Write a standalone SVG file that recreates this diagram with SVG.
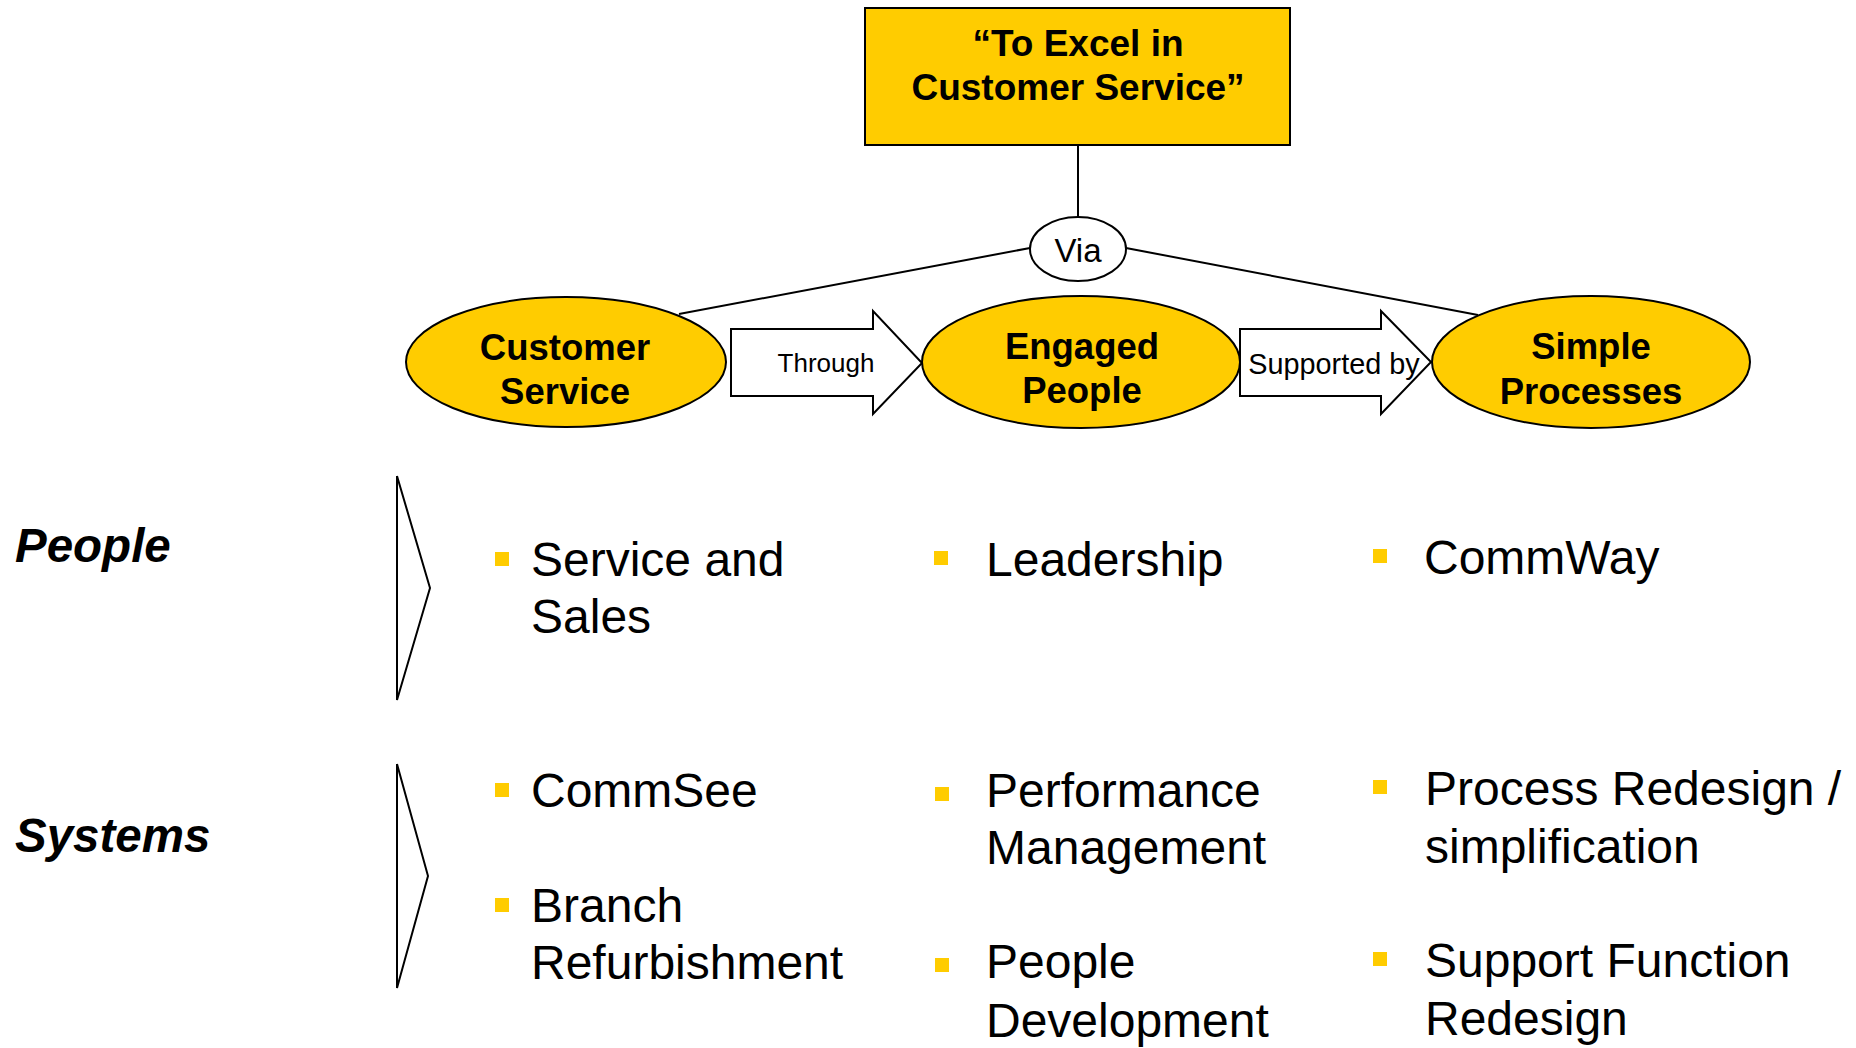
<svg xmlns="http://www.w3.org/2000/svg" width="1856" height="1048" viewBox="0 0 1856 1048">
  <style>
    .shape { stroke: #000; stroke-width: 2; }
    .gold { fill: #FFCC00; }
    .white { fill: #FFFFFF; }
    .line { stroke: #000; stroke-width: 2; fill: none; }
    .title { font-family: "Liberation Sans", Arial, sans-serif; font-weight: bold; font-size: 37px; text-anchor: middle; fill: #000; }
    .pillar { font-family: "Liberation Sans", Arial, sans-serif; font-weight: bold; font-size: 36.5px; text-anchor: middle; fill: #000; }
    .small { font-family: "Liberation Sans", Arial, sans-serif; text-anchor: middle; fill: #000; }
    .via { font-family: "Liberation Sans", Arial, sans-serif; font-size: 33px; text-anchor: middle; fill: #000; }
    .row { font-family: "Liberation Sans", Arial, sans-serif; font-weight: bold; font-style: italic; font-size: 47.5px; fill: #000; }
    .item { font-family: "Liberation Sans", Arial, sans-serif; font-size: 48px; fill: #000; }
    .bullet { fill: #FFCC00; }
  </style>

  <rect width="1856" height="1048" fill="#FFFFFF"/>

  <!-- connectors -->
  <g id="connectors">
    <line class="line" x1="1078" y1="145" x2="1078" y2="217"/>
    <line class="line" x1="1030" y1="248" x2="679" y2="314"/>
    <line class="line" x1="1126" y1="248" x2="1478" y2="315"/>
    <g id="arrow-through">
      <polygon class="shape white" points="731,329 873,329 873,311 922,363 873,414 873,396 731,396"/>
      <text class="small" x="826" y="372" font-size="26">Through</text>
    </g>
    <g id="arrow-supported">
      <polygon class="shape white" points="1240,329 1381,329 1381,311 1431,362 1381,414 1381,396 1240,396"/>
      <text class="small" x="1334" y="374" font-size="28.8">Supported by</text>
    </g>
  </g>

  <!-- goal box -->
  <g id="goal">
    <rect class="shape gold" x="865" y="8" width="425" height="137"/>
    <text class="title" x="1078" y="56">“To Excel in</text>
    <text class="title" x="1078" y="99.5">Customer Service”</text>
  </g>

  <g id="via">
    <ellipse class="shape white" cx="1078" cy="249" rx="48" ry="32"/>
    <text class="via" x="1078" y="262">Via</text>
  </g>

  <!-- pillars -->
  <g id="customer-service">
    <ellipse class="shape gold" cx="566" cy="362" rx="160" ry="65"/>
    <text class="pillar" x="565" y="360">Customer</text>
    <text class="pillar" x="565" y="404">Service</text>
  </g>
  <g id="engaged-people">
    <ellipse class="shape gold" cx="1081" cy="362" rx="159" ry="66"/>
    <text class="pillar" x="1082" y="359">Engaged</text>
    <text class="pillar" x="1082" y="403">People</text>
  </g>
  <g id="simple-processes">
    <ellipse class="shape gold" cx="1591" cy="362" rx="159" ry="66"/>
    <text class="pillar" x="1591" y="359">Simple</text>
    <text class="pillar" x="1591" y="404">Processes</text>
  </g>

  <!-- row: People -->
  <g id="row-people">
    <text class="row" x="15" y="562">People</text>
    <polyline class="line" points="397,476 397,700 430,588 397,476"/>
  </g>
  <g id="people-items">
    <rect class="bullet" x="495" y="552" width="14" height="14"/>
    <text class="item" x="531" y="576">Service and</text>
    <text class="item" x="531" y="633">Sales</text>

    <rect class="bullet" x="934" y="551" width="14" height="14"/>
    <text class="item" x="986" y="576">Leadership</text>

    <rect class="bullet" x="1373" y="549" width="14" height="14"/>
    <text class="item" x="1424" y="574">CommWay</text>
  </g>

  <!-- row: Systems -->
  <g id="row-systems">
    <text class="row" x="15" y="852">Systems</text>
    <polyline class="line" points="397,764 397,988 428,876 397,764"/>
  </g>
  <g id="systems-items">
    <rect class="bullet" x="495" y="783" width="14" height="14"/>
    <text class="item" x="531" y="807">CommSee</text>
    <rect class="bullet" x="495" y="898" width="14" height="14"/>
    <text class="item" x="531" y="922">Branch</text>
    <text class="item" x="531" y="979">Refurbishment</text>

    <rect class="bullet" x="935" y="787" width="14" height="14"/>
    <text class="item" x="986" y="807">Performance</text>
    <text class="item" x="986" y="864">Management</text>
    <rect class="bullet" x="935" y="958" width="14" height="14"/>
    <text class="item" x="986" y="978">People</text>
    <text class="item" x="986" y="1037">Development</text>

    <rect class="bullet" x="1373" y="780" width="14" height="14"/>
    <text class="item" x="1425" y="805">Process Redesign /</text>
    <text class="item" x="1425" y="863">simplification</text>
    <rect class="bullet" x="1373" y="952" width="14" height="14"/>
    <text class="item" x="1425" y="977">Support Function</text>
    <text class="item" x="1425" y="1035">Redesign</text>
  </g>
</svg>
